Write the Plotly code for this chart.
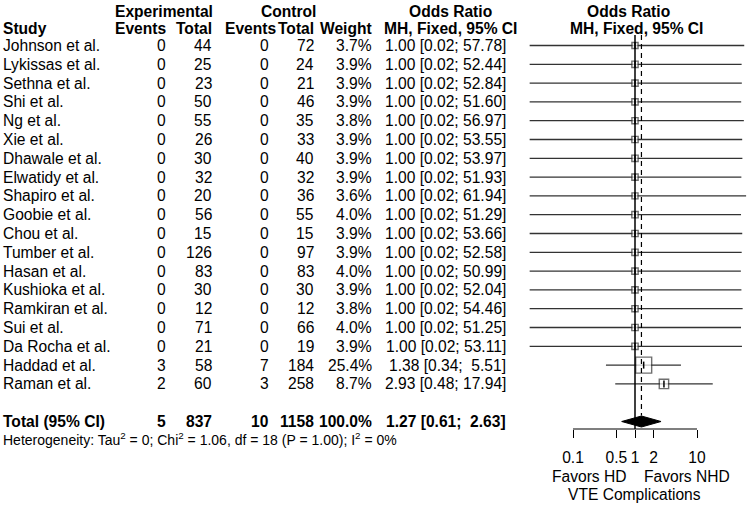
import math
import plotly.graph_objects as go

# ---------------- data ----------------
studies = ["Johnson et al.", "Lykissas et al.", "Sethna et al.", "Shi et al.", "Ng et al.",
           "Xie et al.", "Dhawale et al.", "Elwatidy et al.", "Shapiro et al.", "Goobie et al.",
           "Chou et al.", "Tumber et al.", "Hasan et al.", "Kushioka et al.", "Ramkiran et al.",
           "Sui et al.", "Da Rocha et al.", "Haddad et al.", "Raman et al."]
exp_events = [0, 0, 0, 0, 0, 0, 0, 0, 0, 0, 0, 0, 0, 0, 0, 0, 0, 3, 2]
exp_total = [44, 25, 23, 50, 55, 26, 30, 32, 20, 56, 15, 126, 83, 30, 12, 71, 21, 58, 60]
ctrl_events = [0, 0, 0, 0, 0, 0, 0, 0, 0, 0, 0, 0, 0, 0, 0, 0, 0, 7, 3]
ctrl_total = [72, 24, 21, 46, 35, 33, 40, 32, 36, 55, 15, 97, 83, 30, 12, 66, 19, 184, 258]
weights = [3.7, 3.9, 3.9, 3.9, 3.8, 3.9, 3.9, 3.9, 3.6, 4.0, 3.9, 3.9, 4.0, 3.9, 3.8, 4.0, 3.9, 25.4, 8.7]
or_est = [1.00, 1.00, 1.00, 1.00, 1.00, 1.00, 1.00, 1.00, 1.00, 1.00, 1.00, 1.00, 1.00, 1.00,
          1.00, 1.00, 1.00, 1.38, 2.93]
ci_low = [0.02, 0.02, 0.02, 0.02, 0.02, 0.02, 0.02, 0.02, 0.02, 0.02, 0.02, 0.02, 0.02, 0.02,
          0.02, 0.02, 0.02, 0.34, 0.48]
ci_high = [57.78, 52.44, 52.84, 51.60, 56.97, 53.55, 53.97, 51.93, 61.94, 51.29, 53.66, 52.58,
           50.99, 52.04, 54.46, 51.25, 53.11, 5.51, 17.94]

total_label = "Total (95% CI)"
total_exp_events = 5
total_exp_total = 837
total_ctrl_events = 10
total_ctrl_total = 1158
total_weight = 100.0
total_or = 1.27
total_low = 0.61
total_high = 2.63

heterogeneity = "Heterogeneity: Tau<sup>2</sup> = 0; Chi<sup>2</sup> = 1.06, df = 18 (P = 1.00); I<sup>2</sup> = 0%"
tick_vals = [0.1, 0.5, 1, 2, 10]
tick_text = ["0.1", "0.5", "1", "2", "10"]
favors_left = "Favors HD"
favors_right = "Favors NHD"
x_title = "VTE Complications"

# ---------------- layout geometry (pixels) ----------------
W, H = 748, 505
FONT = "Liberation Sans, Arial, Helvetica, sans-serif"
FS = 15.6
ROW0 = 45.5
STEP = 18.8


def row_y(i):
    return ROW0 + i * STEP


n = len(studies)
y_total = row_y(n + 1)
y_axis = 429
x_one = 635.0      # pixel of OR = 1
px_dec = 62.0      # pixels per decade
dom_left = 520.0

fig = go.Figure()

# CI lines
xs, ys = [], []
for i in range(n):
    xs += [ci_low[i], ci_high[i], None]
    ys += [row_y(i), row_y(i), None]
fig.add_trace(go.Scatter(x=xs, y=ys, mode="lines", line=dict(color="#333333", width=1.3),
                         hoverinfo="skip", showlegend=False))

# boxes
sizes = [16 * math.sqrt(w / 25.4) for w in weights]
fig.add_trace(go.Scatter(x=or_est, y=[row_y(i) for i in range(n)], mode="markers",
                         marker=dict(symbol="square", size=sizes, color="white",
                                     line=dict(color="#333333", width=1.4)),
                         hoverinfo="skip", showlegend=False))
# estimate ticks
fig.add_trace(go.Scatter(x=or_est, y=[row_y(i) for i in range(n)], mode="markers",
                         marker=dict(symbol="line-ns", size=5, line=dict(color="black", width=1.5)),
                         hoverinfo="skip", showlegend=False))

# reference line at OR = 1
fig.add_trace(go.Scatter(x=[1, 1], y=[35, y_axis], mode="lines",
                         line=dict(color="black", width=1.5), hoverinfo="skip", showlegend=False))
# dashed line at pooled estimate
fig.add_trace(go.Scatter(x=[total_or, total_or], y=[35, y_total - 6], mode="lines",
                         line=dict(color="black", width=1.2, dash="5px,4px"),
                         hoverinfo="skip", showlegend=False))

# diamond
fig.add_trace(go.Scatter(x=[total_low, total_or, total_high, total_or, total_low],
                         y=[y_total, y_total - 5.5, y_total, y_total + 5.5, y_total],
                         mode="lines", fill="toself", fillcolor="black",
                         line=dict(color="black", width=1), hoverinfo="skip", showlegend=False))

# axis line (only over tick span)
fig.add_trace(go.Scatter(x=[tick_vals[0], tick_vals[-1]], y=[y_axis, y_axis], mode="lines",
                         line=dict(color="black", width=1.2), hoverinfo="skip", showlegend=False))

# ---------------- text table ----------------
ann = []


def txt(x, y, s, anchor="right", bold=False, size=FS):
    ann.append(dict(x=x / W, y=y, xref="paper", yref="y", text=("<b>%s</b>" % s) if bold else s,
                    showarrow=False, xanchor=anchor, yanchor="middle", borderpad=0,
                    font=dict(family=FONT, size=size, color="black")))


col_ee, col_et, col_ce, col_ct, col_w, col_or = 167, 213, 270, 315, 373, 507
# headers
y_h1, y_h2 = 11, 28
txt(164, y_h1, "Experimental", "center", True)
txt(288, y_h1, "Control", "center", True)
txt(450, y_h1, "Odds Ratio", "center", True)
txt(628, y_h1, "Odds Ratio", "center", True)
txt(2, y_h2, "Study", "left", True)
txt(167, y_h2, "Events", "right", True)
txt(213, y_h2, "Total", "right", True)
txt(277, y_h2, "Events", "right", True)
txt(315, y_h2, "Total", "right", True)
txt(373, y_h2, "Weight", "right", True)
txt(450, y_h2, "MH, Fixed, 95% CI", "center", True)
txt(636, y_h2, "MH, Fixed, 95% CI", "center", True)


def fmt_or(e, lo, hi):
    s = "%.2f [%.2f; %5.2f]" % (e, lo, hi)
    return s.replace("  ", " \u00a0")


for i in range(n):
    y = row_y(i)
    txt(2, y, studies[i], "left")
    txt(col_ee, y, str(exp_events[i]))
    txt(col_et, y, str(exp_total[i]))
    txt(col_ce, y, str(ctrl_events[i]))
    txt(col_ct, y, str(ctrl_total[i]))
    txt(col_w, y, "%.1f%%" % weights[i])
    txt(col_or, y, fmt_or(or_est[i], ci_low[i], ci_high[i]))

txt(2, y_total, total_label, "left", True)
txt(col_ee, y_total, str(total_exp_events), bold=True)
txt(col_et, y_total, str(total_exp_total), bold=True)
txt(col_ce, y_total, str(total_ctrl_events), bold=True)
txt(col_ct, y_total, str(total_ctrl_total), bold=True)
txt(col_w, y_total, "%.1f%%" % total_weight, bold=True)
txt(col_or, y_total, fmt_or(total_or, total_low, total_high), bold=True)
txt(2, y_total + 17, heterogeneity, "left", size=14)

txt(628, 476, favors_left, "right")
txt(643, 476, favors_right, "left")
txt(634, 494, x_title, "center")

x_range = [(dom_left - x_one) / px_dec, (W - x_one) / px_dec]

fig.update_layout(
    width=W, height=H,
    margin=dict(l=0, r=0, t=0, b=0),
    paper_bgcolor="white", plot_bgcolor="white",
    showlegend=False,
    annotations=ann,
    xaxis=dict(type="log", domain=[dom_left / W, 1], range=x_range, anchor="free",
               position=1 - y_axis / H, showline=False, showgrid=False, zeroline=False,
               ticks="outside", ticklen=8, tickwidth=1.2, tickcolor="black",
               tickvals=tick_vals, ticktext=tick_text, ticklabelstandoff=6,
               tickfont=dict(family=FONT, size=FS, color="black")),
    yaxis=dict(range=[H, 0], domain=[0, 1], visible=False, showgrid=False, zeroline=False),
)

fig.write_html("out.html", config={"displayModeBar": False},
               post_script="document.body.style.margin='0';document.body.style.padding='0';")
